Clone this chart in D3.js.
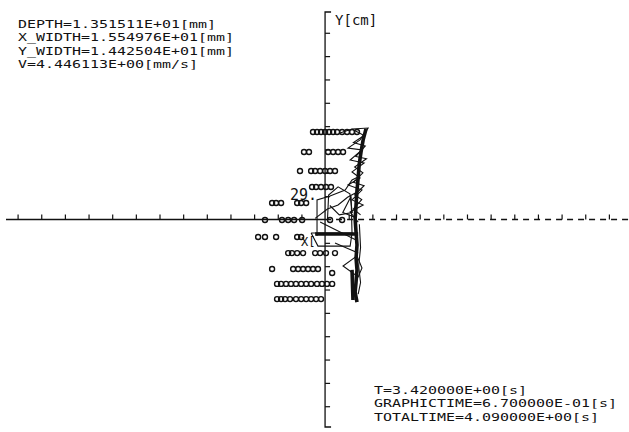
<!DOCTYPE html>
<html><head><meta charset="utf-8">
<script src="https://cdn.jsdelivr.net/npm/d3@7"></script>
<style>
html,body{margin:0;padding:0;background:#fff;}
svg{display:block;}
text{font-family:"DejaVu Sans Mono","Liberation Mono",monospace;fill:#111;}
</style></head>
<body>
<svg id="chart" width="629" height="432"></svg>
<script>
// ---- data (units of the plot axes) ----
const xTicks = [-13,-12,-11,-10,-9,-8,-7,-6,-5,-4,-3,-2,-1,1,2,3,4,5,6,7,8,9,10,11,12];
const yTicks = [-8,-7,-6,-5,-4,-3,-2,-1,1,2,3,4,5,6,7,8];
const infoTopLeft = ["DEPTH=1.351511E+01[mm]","X_WIDTH=1.554976E+01[mm]","Y_WIDTH=1.442504E+01[mm]","V=4.446113E+00[mm/s]"];
const infoBottomRight = ["T=3.420000E+00[s]","GRAPHICTIME=6.700000E-01[s]","TOTALTIME=4.090000E+00[s]"];
const yAxisLabel = "Y[cm]";
const markLabels = [{t:"29.", x:-1.48, y:0.83, s:15},{t:"X[", x:-1.02, y:-1.15, s:12}];

// sampled circle rows: [x, y]
const rowA = [[-0.51,3.75],[-0.34,3.75],[-0.17,3.75],[0,3.75],[0.17,3.75],[0.34,3.75],[0.51,3.75],[0.72,3.75],[0.93,3.75],[1.14,3.75],[1.35,3.75]];
const rowB = [[-0.89,2.89],[-0.68,2.89],[0.13,2.89],[0.34,2.89],[0.55,2.89],[0.76,2.89]];
const rowC = [[-1.06,2.08],[-0.59,2.08],[-0.42,2.08],[-0.21,2.08],[0,2.08],[0.21,2.08],[0.42,2.08]];
const rowD = [[-0.55,1.39],[-0.38,1.39],[-0.17,1.39],[0.04,1.39],[0.25,1.39]];
const rowE = [[-2.24,0.71],[-2.07,0.71],[-1.86,0.71],[-1.18,0.71],[-1.01,0.71],[-0.80,0.71]];
const rowF = [[-2.54,-0.02],[-1.82,-0.02],[-1.56,-0.02],[-1.31,-0.02],[-0.97,-0.02],[0.21,-0.02],[0.72,-0.02]];
const rowG = [[-2.83,-0.75],[-2.54,-0.75],[-2.07,-0.75],[-1.18,-0.75],[-1.01,-0.75]];
const rowH = [[-1.56,-1.44],[-1.40,-1.44],[-1.18,-1.44],[-0.93,-1.44],[-0.42,-1.44],[-0.21,-1.44],[0.04,-1.44],[0.42,-1.44]];
const rowI = [[-2.24,-2.12],[-1.35,-2.12],[-1.14,-2.12],[-0.93,-2.12],[-0.72,-2.12],[-0.51,-2.12],[-0.30,-2.12],[0.30,-2.29]];
const rowJ = [[-2.03,-2.76],[-1.86,-2.76],[-1.65,-2.76],[-1.44,-2.76],[-1.23,-2.76],[-1.01,-2.76],[-0.80,-2.76],[-0.59,-2.76],[-0.34,-2.76],[-0.13,-2.76],[0.08,-2.76],[0.30,-2.76]];
const rowK = [[-2.03,-3.41],[-1.86,-3.41],[-1.69,-3.41],[-1.48,-3.41],[-1.23,-3.41],[-1.01,-3.41],[-0.80,-3.41],[-0.59,-3.41],[-0.38,-3.41],[-0.17,-3.41]];
const circleRows = [rowA,rowB,rowC,rowD,rowE,rowF,rowG,rowH,rowI,rowJ,rowK];

// trajectory traces: [x, y]
const spine = [[1.73,3.88],[1.61,3.41],[1.52,2.89],[1.44,2.34],[1.40,1.78],[1.35,1.26],[1.31,0.62],[1.27,0.02],[1.31,-0.54],[1.35,-1.09],[1.31,-1.65],[1.35,-2.16],[1.31,-2.68],[1.27,-3.11],[1.35,-3.54]];
const web = [[0.63,3.71],[1.14,3.88],[1.82,3.92],[1.48,3.41],[0.97,3.06],[1.56,2.98],[1.06,2.55],[1.65,2.42],[1.14,2.04],[1.48,1.78],[0.97,1.48],[1.56,1.26],[1.14,0.84],[1.61,0.62],[1.06,0.32],[1.40,-0.11]];
const web2 = [[1.27,3.80],[1.65,3.60],[1.20,3.30],[1.70,3.15],[1.30,2.70],[1.75,2.60],[1.25,2.25],[1.60,2.00],[1.20,1.60],[1.65,1.45],[1.25,1.05],[1.55,0.85],[1.20,0.45],[1.50,0.20]];
const mesh = [[-0.34,-0.71],[-0.34,0.84],[0.21,1.01],[0.85,1.26],[1.14,1.69],[1.48,1.86]];
const mesh2 = [[-0.42,0.05],[0.10,0.45],[0.55,0.62],[0.95,0.95],[1.30,1.15]];
const mesh3 = [[0.10,-0.05],[0.15,1.05],[0.55,1.40],[1.05,1.10],[1.15,0.30],[0.60,0.20],[0.20,0.60]];
const mesh4 = [[1.14,-0.60],[1.10,1.00],[0.75,0.30],[1.25,0.10]];
const box = [[-0.59,-0.58],[1.14,-0.58],[1.06,-1.14],[-0.30,-1.14],[-0.59,-0.58]];
const boxTop = [[-0.42,-0.62],[1.40,-0.62]];
const diag1 = [[-0.21,-0.11],[1.31,-0.88]];
const diag2 = [[0.42,-1.01],[1.40,-1.44]];
const chevron = [[1.35,-1.56],[0.76,-1.99],[1.40,-2.46],[1.56,-2.08],[1.35,-1.56]];
const side = [[1.45,-0.20],[1.50,-1.20],[1.42,-2.00],[1.50,-2.70],[1.40,-3.20]];
const tail = [[1.14,-2.16],[1.18,-3.45]];
const thinTraces = [web, web2, mesh, mesh2, mesh3, mesh4, box, diag1, diag2, chevron, side];
const thickTraces = [spine, boxTop, tail];

// ---- drawing ----
const svg = d3.select("#chart");
const x = d3.scaleLinear().domain([-13.49, 12.85]).range([6, 629]);
const y = d3.scaleLinear().domain([-8.89, 8.89]).range([427, 12]);
const x0 = x(0), y0 = y(0);
const ink = "#111";

// X axis: solid to the left, dashed to the right
svg.append("line").attr("x1", x.range()[0]).attr("x2", x0).attr("y1", y0).attr("y2", y0)
  .attr("stroke", ink).attr("stroke-width", 1.3);
svg.append("line").attr("x1", x0).attr("x2", x.range()[1]).attr("y1", y0).attr("y2", y0)
  .attr("stroke", ink).attr("stroke-width", 1.3).attr("stroke-dasharray", "6,5");
const xAx = d3.axisTop(x).tickValues(xTicks).tickSize(5).tickFormat("");
const gx = svg.append("g").attr("transform", `translate(0,${y0})`).call(xAx);
gx.select(".domain").remove();
gx.selectAll(".tick line").attr("stroke", ink).attr("stroke-width", 1.2);

// Y axis with ticks on the right side
const yAx = d3.axisRight(y).tickValues(yTicks).tickSize(5).tickFormat("");
const gy = svg.append("g").attr("transform", `translate(${x0},0)`).call(yAx);
gy.select(".domain").attr("d", `M6,${y.range()[1]}H0V${y.range()[0]}H6`).attr("stroke", ink).attr("stroke-width", 1.3).attr("fill","none");
gy.selectAll(".tick line").attr("stroke", ink).attr("stroke-width", 1.2);

// trajectory
const line = d3.line().x(d => x(d[0])).y(d => y(d[1]));
svg.append("g").selectAll("path").data(thinTraces).join("path")
  .attr("d", line).attr("fill", "none").attr("stroke", ink).attr("stroke-width", 1.1);
svg.append("g").selectAll("path").data(thickTraces).join("path")
  .attr("d", line).attr("fill", "none").attr("stroke", ink).attr("stroke-width", 3.6);

// sampled circles
svg.append("g").selectAll("g").data(circleRows).join("g")
  .selectAll("circle").data(d => d).join("circle")
  .attr("cx", d => x(d[0])).attr("cy", d => y(d[1])).attr("r", 2.5)
  .attr("fill", "none").attr("stroke", ink).attr("stroke-width", 1.4);

// labels near marks
svg.append("g").selectAll("text").data(markLabels).join("text")
  .attr("x", d => x(d.x)).attr("y", d => y(d.y)).attr("font-size", d => d.s).text(d => d.t);

// axis label
svg.append("text").attr("x", x0 + 10).attr("y", 25).attr("font-size", 14).text(yAxisLabel);

// info blocks
svg.append("g").selectAll("text").data(infoTopLeft).join("text")
  .attr("x", 18).attr("y", (d, i) => 28 + i * 13.4)
  .attr("font-size", 11.2).attr("textLength", d => d.length * 9.0).attr("lengthAdjust", "spacingAndGlyphs")
  .text(d => d);
svg.append("g").selectAll("text").data(infoBottomRight).join("text")
  .attr("x", 374).attr("y", (d, i) => 394 + i * 13.4)
  .attr("font-size", 11.2).attr("textLength", d => d.length * 9.0).attr("lengthAdjust", "spacingAndGlyphs")
  .text(d => d);
</script>
</body></html>
